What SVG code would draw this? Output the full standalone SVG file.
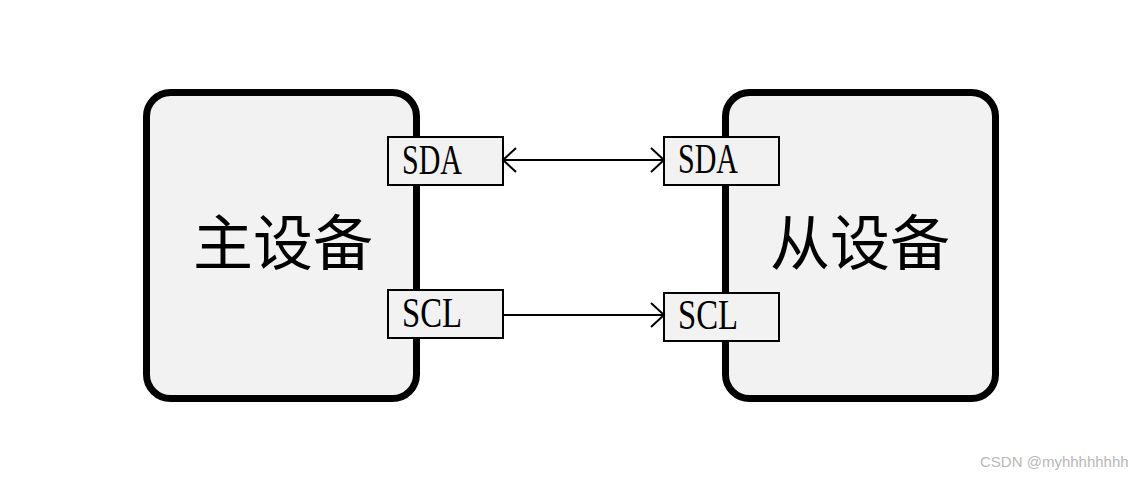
<svg xmlns="http://www.w3.org/2000/svg" width="1146" height="479" viewBox="0 0 1146 479">
<style>
.dev{fill:#f2f2f2;stroke:#000;stroke-width:7}
.port{fill:#f2f2f2;stroke:#000;stroke-width:2}
.pt{font-family:"Liberation Serif","Noto Sans CJK SC",serif;font-size:43px;fill:#000}
.big{font-family:"Noto Sans CJK SC","Noto Sans CJK JP",sans-serif;font-size:60px;fill:#000}
.wire{stroke:#000;stroke-width:2;fill:none}
.wm{font-family:"Liberation Sans",Arial,sans-serif;font-size:15px;fill:#b8b8b8}
</style>
<defs>
<marker id="ah" markerUnits="userSpaceOnUse" markerWidth="20" markerHeight="30" refX="15" refY="13" orient="auto-start-reverse" viewBox="0 0 20 30">
<path d="M2,1 L15,13 L2,25" fill="none" stroke="#000" stroke-width="2"/>
</marker>
</defs>
<rect width="1146" height="479" fill="#fff"/>
<g id="master">
<rect class="dev" x="146.5" y="92.5" width="270" height="306" rx="24"/>
<text class="big" x="283" y="265" text-anchor="middle">主设备</text>
</g>
<g id="slave">
<rect class="dev" x="725.5" y="92.5" width="270" height="306" rx="24"/>
<text class="big" x="860" y="265" text-anchor="middle">从设备</text>
</g>
<g id="master-sda">
<rect class="port" x="388" y="137" width="115" height="48"/>
<text class="pt" x="402" y="174" textLength="60" lengthAdjust="spacingAndGlyphs">SDA</text>
</g>
<g id="master-scl">
<rect class="port" x="388" y="290" width="115" height="48"/>
<text class="pt" x="402" y="327" textLength="60" lengthAdjust="spacingAndGlyphs">SCL</text>
</g>
<g id="slave-sda">
<rect class="port" x="664" y="137" width="115" height="48"/>
<text class="pt" x="678" y="173" textLength="60" lengthAdjust="spacingAndGlyphs">SDA</text>
</g>
<g id="slave-scl">
<rect class="port" x="664" y="293" width="115" height="48"/>
<text class="pt" x="678" y="329" textLength="60" lengthAdjust="spacingAndGlyphs">SCL</text>
</g>
<g id="connectors">
<line class="wire" x1="503" y1="160" x2="664" y2="160" marker-start="url(#ah)" marker-end="url(#ah)"/>
<line class="wire" x1="503" y1="315" x2="664" y2="315" marker-end="url(#ah)"/>
</g>
<text class="wm" x="980" y="467">CSDN @myhhhhhhhh</text>
</svg>
